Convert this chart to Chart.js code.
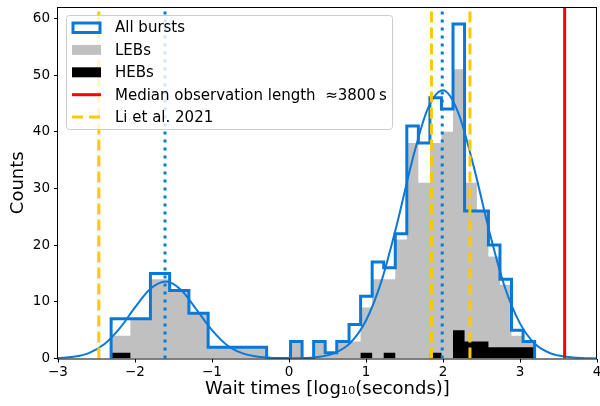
<!DOCTYPE html>
<html>
<head>
<meta charset="utf-8">
<script src="https://cdn.jsdelivr.net/npm/chart.js@4.4.1/dist/chart.umd.min.js"></script>
<style>
  body { margin: 0; background: #fff; }
  canvas { display: block; }
</style>
</head>
<body>
<canvas id="waitChart" width="600" height="406"></canvas>
<script>
// bin edges (log10 seconds) and counts
const leftEdges = [-2.31, -2.06, -1.80, -1.55, -1.30, -1.05, -0.80, -0.54, -0.29];
const leftAll = [7, 7, 15, 12, 8, 2, 2, 2];
const leftLEB = [4, 7, 14, 12, 8, 2, 2, 2];
const leftHEB = [1, 0, 0, 0, 0, 0, 0, 0];

const rightEdges = [0.02, 0.17, 0.32, 0.47, 0.62, 0.78, 0.93, 1.08, 1.23, 1.38, 1.53,
  1.68, 1.83, 1.98, 2.13, 2.28, 2.44, 2.59, 2.74, 2.89, 3.04, 3.19];
const rightAll = [3, 0, 3, 1, 3, 6, 11, 17, 16, 22, 41, 38, 46, 44, 59, 26, 26, 20, 14, 5, 3];
const rightLEB = [3, 0, 3, 1, 3, 3, 9, 14, 14, 21, 38, 31, 38, 40, 51, 31, 26, 18, 13, 4, 3];
const rightHEB = [0, 0, 0, 0, 0, 0, 1, 0, 1, 0, 0, 0, 1, 0, 5, 3, 3, 2, 2, 2, 2];

// smooth fit curve, sampled from the figure
const curveX = [-3.0, -2.8, -2.6, -2.4, -2.2, -2.0, -1.8, -1.6, -1.4, -1.2, -1.0, -0.8, -0.6,
  -0.4, -0.2, 0.0, 0.2, 0.4, 0.6, 0.8, 1.0, 1.2, 1.4, 1.6, 1.8, 2.0, 2.2, 2.4, 2.6, 2.8,
  3.0, 3.2, 3.4, 3.6, 3.8, 4.0];
const curveY = [0.07, 0.3, 0.96, 2.5, 5.3, 9.0, 12.3, 13.6, 12.1, 8.6, 5.0, 2.3, 0.9,
  0.3, 0.1, 0.03, 0.08, 0.3, 1.0, 2.8, 6.7, 13.6, 23.6, 34.9, 44.0, 47.3, 43.3, 33.8, 22.5, 12.7,
  6.2, 2.5, 0.9, 0.3, 0.07, 0.02];

const peakLines = [-1.61, 1.99];
const liLines = [-2.47, 1.85, 2.35];
const medianLine = 3.58;

const xTicks = [-3, -2, -1, 0, 1, 2, 3, 4];
const yTicks = [0, 10, 20, 30, 40, 50, 60];
const yMax = 62;

const BLUE = "#0a78d7";
const GREY = "#c0c0c0";
const GOLD = "#ffc800";
const RED = "#ff0000";

// turn edges + counts into points for a stepped line
function stepPoints(parts) {
  const pts = [{ x: parts[0][0][0], y: 0 }];
  parts.forEach(([edges, counts]) => {
    counts.forEach((c, i) => pts.push({ x: edges[i], y: c }));
    pts.push({ x: edges[edges.length - 1], y: 0 });
  });
  return pts;
}

function vline(x, color, width, dash, order) {
  return {
    data: [{ x: x, y: 0 }, { x: x, y: yMax }],
    borderColor: color,
    borderWidth: width,
    borderDash: dash,
    borderCapStyle: "butt",
    fill: false,
    order: order,
  };
}

const datasets = [
  {
    data: stepPoints([[leftEdges, leftLEB], [rightEdges, rightLEB]]),
    stepped: "before",
    fill: "origin",
    backgroundColor: GREY,
    borderColor: "rgba(0,0,0,0)",
    borderWidth: 0,
    order: 10,
  },
  {
    data: stepPoints([[leftEdges, leftHEB], [rightEdges, rightHEB]]),
    stepped: "before",
    fill: "origin",
    backgroundColor: "#000",
    borderColor: "rgba(0,0,0,0)",
    borderWidth: 0,
    order: 9,
  },
  {
    data: stepPoints([[leftEdges, leftAll], [rightEdges, rightAll]]),
    stepped: "before",
    fill: false,
    borderColor: BLUE,
    borderWidth: 3,
    borderJoinStyle: "miter",
    order: 8,
  },
  {
    data: curveX.map((x, i) => ({ x: x, y: curveY[i] })),
    cubicInterpolationMode: "monotone",
    fill: false,
    borderColor: BLUE,
    borderWidth: 2,
    order: 7,
  },
];
liLines.forEach((x) => datasets.push(vline(x, GOLD, 3, [11, 5], 5)));
peakLines.forEach((x) => datasets.push(vline(x, BLUE, 3, [3, 5], 4)));
datasets.push(vline(medianLine, RED, 3, [], 3));

const legendRows = [
  { label: "All bursts", kind: "outline", color: BLUE },
  { label: "LEBs", kind: "patch", color: GREY },
  { label: "HEBs", kind: "patch", color: "#000" },
  { label: "Median observation length  \u22483800\u2009s", kind: "line", color: RED },
  { label: "Li et al. 2021", kind: "dash", color: GOLD },
];

const frameAndLegend = {
  id: "frameAndLegend",
  afterDraw(chart) {
    const ctx = chart.ctx;
    const a = chart.chartArea;
    ctx.save();
    ctx.strokeStyle = "#000";
    ctx.lineWidth = 1;
    ctx.strokeRect(a.left - 0.5, a.top + 0.5, a.right - a.left, a.bottom - a.top);

    // legend box
    const bx = 66.5, by = 15.5, bw = 326, bh = 114, r = 3;
    ctx.beginPath();
    ctx.moveTo(bx + r, by);
    ctx.arcTo(bx + bw, by, bx + bw, by + bh, r);
    ctx.arcTo(bx + bw, by + bh, bx, by + bh, r);
    ctx.arcTo(bx, by + bh, bx, by, r);
    ctx.arcTo(bx, by, bx + bw, by, r);
    ctx.closePath();
    ctx.fillStyle = "rgba(255,255,255,0.8)";
    ctx.fill();
    ctx.strokeStyle = "#cccccc";
    ctx.stroke();

    ctx.font = "15px 'DejaVu Sans'";
    ctx.textBaseline = "middle";
    legendRows.forEach((row, i) => {
      const cy = 27.5 + i * 22.4;
      const hx = 72, hw = 29;
      if (row.kind === "outline") {
        ctx.strokeStyle = row.color;
        ctx.lineWidth = 3;
        ctx.strokeRect(hx + 1, cy - 4.5, hw - 2, 9.5);
      } else if (row.kind === "patch") {
        ctx.fillStyle = row.color;
        ctx.fillRect(hx, cy - 5, hw, 10);
      } else {
        ctx.strokeStyle = row.color;
        ctx.lineWidth = 3;
        ctx.setLineDash(row.kind === "dash" ? [11, 6] : []);
        ctx.beginPath();
        ctx.moveTo(hx, cy);
        ctx.lineTo(hx + hw, cy);
        ctx.stroke();
        ctx.setLineDash([]);
      }
      ctx.fillStyle = "#000";
      ctx.fillText(row.label, 115, cy + 1);
    });
    ctx.restore();
  },
};

const minusSign = (v) => String(v).replace("-", "\u2212");

new Chart(document.getElementById("waitChart"), {
  type: "line",
  data: { datasets: datasets },
  options: {
    responsive: false,
    animation: false,
    devicePixelRatio: 1,
    layout: { autoPadding: false, padding: { top: 7, right: 3, left: 0, bottom: 0 } },
    elements: { point: { radius: 0, hoverRadius: 0 }, line: { tension: 0 } },
    plugins: { legend: { display: false }, tooltip: { enabled: false } },
    scales: {
      x: {
        type: "linear",
        min: -3,
        max: 4,
        afterFit: (s) => {
          s.height = 47.5;
          s.paddingLeft = 0;
          s.paddingRight = 0;
        },
        afterBuildTicks: (s) => { s.ticks = xTicks.map((v) => ({ value: v })); },
        ticks: {
          callback: minusSign,
          color: "#000",
          font: { family: "DejaVu Sans", size: 13.5 },
          padding: 2,
          maxRotation: 0,
          autoSkip: false,
        },
        grid: { drawOnChartArea: false, tickLength: 4, color: "#000" },
        border: { display: false },
        title: {
          display: true,
          text: "Wait times [log\u2081\u2080(seconds)]",
          color: "#000",
          font: { family: "DejaVu Sans", size: 18 },
          padding: { top: 0, bottom: 6 },
        },
      },
      y: {
        min: 0,
        max: yMax,
        afterFit: (s) => {
          s.width = 58;
          s.paddingTop = 0;
          s.paddingBottom = 0;
        },
        afterBuildTicks: (s) => { s.ticks = yTicks.map((v) => ({ value: v })); },
        ticks: {
          color: "#000",
          font: { family: "DejaVu Sans", size: 13.5 },
          padding: 4,
          autoSkip: false,
        },
        grid: { drawOnChartArea: false, tickLength: 4, color: "#000" },
        border: { display: false },
        title: {
          display: true,
          text: "Counts",
          color: "#000",
          font: { family: "DejaVu Sans", size: 18 },
          padding: { top: 8, bottom: 0 },
        },
      },
    },
  },
  plugins: [frameAndLegend],
});
</script>
</body>
</html>
